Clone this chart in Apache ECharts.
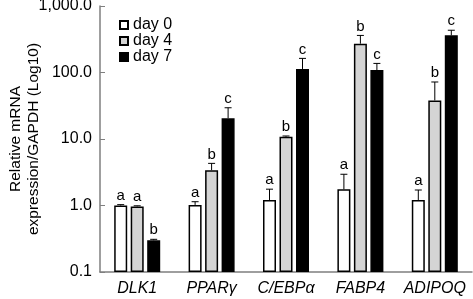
<!DOCTYPE html>
<html>
<head>
<meta charset="utf-8">
<script src="https://cdn.jsdelivr.net/npm/echarts@6/dist/echarts.min.js"></script>
<style>
  html, body { margin: 0; padding: 0; background: #fff; }
  #chart { width: 473px; height: 299px; }
</style>
</head>
<body>
<div id="chart"></div>
<script>
// values
const genes = ['DLK1', 'PPARγ', 'C/EBPα', 'FABP4', 'ADIPOQ']
const seriesNames = ['day 0', 'day 4', 'day 7']

const day0 = [1.0, 1.02, 1.21, 1.75, 1.21]
const day4 = [0.97, 3.4, 10.8, 271, 38]
const day7 = [0.30, 20.5, 113, 109, 362]

const day0Err = [0.03, 0.12, 0.55, 1.2, 0.5]
const day4Err = [0.02, 0.9, 0.3, 90, 34]
const day7Err = [0.01, 9, 50, 28, 70]

const day0Sig = ['a', 'a', 'a', 'a', 'a']
const day4Sig = ['a', 'b', 'b', 'b', 'b']
const day7Sig = ['b', 'c', 'c', 'c', 'c']

const yTicks = [0.1, 1, 10, 100, 1000]

const BAR_W = 13
const BAR_GAP = 3.5
const FONT = 'Liberation Sans, Arial, sans-serif'

const fills = ['#ffffff', '#d4d4d4', '#000000']
const values = [day0, day4, day7]
const errs = [day0Err, day4Err, day7Err]
const sigs = [day0Sig, day4Sig, day7Sig]

// flat rows for the error bar layer: [gene, value, err, bar index]
const errRows = []
const errLetters = []
values.forEach((vals, bi) => {
  vals.forEach((v, ci) => {
    errRows.push([ci, v, errs[bi][ci], bi])
    errLetters.push(sigs[bi][ci])
  })
})

function fmtTick(v) {
  // snap to the nearest decade to avoid float noise
  const d = yTicks.reduce((a, b) => Math.abs(b - v) < Math.abs(a - v) ? b : a)
  return d.toLocaleString('en-US', { minimumFractionDigits: 1, maximumFractionDigits: 1 })
}

const chart = echarts.init(document.getElementById('chart'))

const barSeries = values.map((vals, i) => ({
  name: seriesNames[i],
  type: 'bar',
  data: vals,
  barWidth: BAR_W,
  barGap: (BAR_GAP / BAR_W * 100) + '%',
  itemStyle: { color: fills[i], borderColor: '#000', borderWidth: 1.5 },
  emphasis: { disabled: true },
  z: 2
}))

chart.setOption({
  animation: false,
  textStyle: { fontFamily: FONT },
  grid: { left: 100, right: 1, top: 6, bottom: 27, containLabel: false, outerBoundsMode: 'none' },
  legend: {
    orient: 'vertical',
    left: 114,
    top: 12,
    itemWidth: 8,
    itemHeight: 8,
    itemGap: 0,
    icon: 'rect',
    data: seriesNames,
    textStyle: { fontSize: 16, color: '#000', lineHeight: 15.5, fontFamily: FONT }
  },
  xAxis: {
    type: 'category',
    data: genes,
    axisLine: { lineStyle: { color: '#7f7f7f', width: 1.5 } },
    axisTick: { inside: true, length: 4, lineStyle: { color: '#7f7f7f' } },
    axisLabel: { interval: 0, fontSize: 16, fontStyle: 'italic', color: '#000', margin: 9, fontFamily: FONT }
  },
  yAxis: {
    type: 'log',
    logBase: 10,
    min: 0.1,
    max: 1000,
    startValue: 0.1,
    name: 'Relative mRNA\nexpression/GAPDH (Log10)',
    nameLocation: 'middle',
    nameRotate: 90,
    nameGap: 57,
    nameMoveOverlap: false,
    nameTextStyle: { fontSize: 15.5, color: '#000', lineHeight: 18, fontFamily: FONT },
    axisLine: { show: true, lineStyle: { color: '#7f7f7f', width: 1.5 } },
    axisTick: { show: true, inside: true, length: 5, lineStyle: { color: '#7f7f7f' } },
    minorTick: { show: false },
    splitLine: { show: false },
    axisLabel: { fontSize: 16, color: '#000', margin: 8, formatter: fmtTick, fontFamily: FONT }
  },
  series: [
    ...barSeries,
    {
      type: 'custom',
      data: errRows,
      z: 5,
      silent: true,
      renderItem(params, api) {
        const ci = api.value(0)
        const v = api.value(1)
        const e = api.value(2)
        const bi = api.value(3)
        const base = api.coord([ci, v])
        const top = api.coord([ci, v + e])
        const x = base[0] + (bi - 1) * (BAR_W + BAR_GAP)
        const style = { stroke: '#000', lineWidth: 1 }
        return {
          type: 'group',
          children: [
            { type: 'line', shape: { x1: x, y1: base[1], x2: x, y2: top[1] }, style },
            { type: 'line', shape: { x1: x - 3.5, y1: top[1], x2: x + 3.5, y2: top[1] }, style },
            {
              type: 'text',
              style: {
                x: x,
                y: top[1] - 1.5,
                text: errLetters[params.dataIndex],
                fill: '#000',
                font: '15px ' + FONT,
                align: 'center',
                verticalAlign: 'bottom'
              }
            }
          ]
        }
      }
    }
  ]
})
</script>
</body>
</html>
